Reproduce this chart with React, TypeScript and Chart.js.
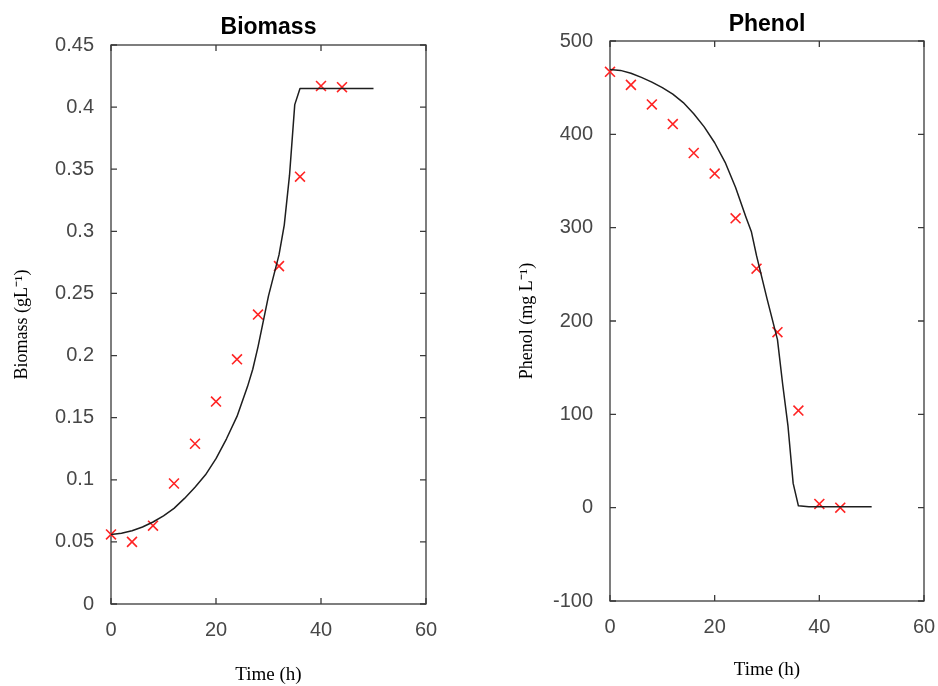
import React, { useEffect, useRef } from "react";
import { Chart, registerables } from "chart.js";

Chart.register(...registerables);

// ---- Data ----
const modelTime = [0, 2, 4, 6, 8, 10, 12, 14, 16, 18, 20, 22, 24, 26, 27, 28, 30, 32, 33, 34, 35, 36, 38, 40, 42, 44, 46, 48, 50];
const biomassModel = [0.056, 0.057, 0.059, 0.062, 0.066, 0.071, 0.077, 0.085, 0.094, 0.104, 0.117, 0.133, 0.151, 0.175, 0.189, 0.207, 0.248, 0.281, 0.305, 0.345, 0.402, 0.415, 0.415, 0.415, 0.415, 0.415, 0.415, 0.415, 0.415];
const phenolModel = [469.5, 468.5, 465.5, 461, 456, 450, 443, 434, 422, 408, 391, 370, 343, 311, 296, 270, 224, 180, 132, 88, 26, 2, 1, 1, 1, 1, 1, 1, 1];

const expTime = [0, 4, 8, 12, 16, 20, 24, 28, 32, 36, 40, 44];
const biomassExp = [0.056, 0.05, 0.063, 0.097, 0.129, 0.163, 0.197, 0.233, 0.272, 0.344, 0.417, 0.416];
const phenolExp = [467, 453, 432, 411, 380, 358, 310, 256, 188, 104, 4, 0];

const timeTicks = [0, 20, 40, 60];
const biomassTicks = [0, 0.05, 0.1, 0.15, 0.2, 0.25, 0.3, 0.35, 0.4, 0.45];
const phenolTicks = [-100, 0, 100, 200, 300, 400, 500];

const SANS = "'Liberation Sans', Arial, Helvetica, sans-serif";
const SERIF = "'Liberation Serif', 'Times New Roman', Times, serif";
const AXIS_COLOR = "#3a3a3a";
const LABEL_COLOR = "#474747";

const framePlugin = {
  id: "matlabFrame",
  beforeDatasetsDraw(chart: any) {
    const { ctx, chartArea: a, scales } = chart;
    ctx.save();
    ctx.strokeStyle = AXIS_COLOR;
    ctx.lineWidth = 1.3;
    ctx.strokeRect(a.left, a.top, a.right - a.left, a.bottom - a.top);
    const tl = 6;
    ctx.beginPath();
    for (const t of scales.x.ticks) {
      const px = scales.x.getPixelForValue(t.value);
      ctx.moveTo(px, a.bottom);
      ctx.lineTo(px, a.bottom - tl);
      ctx.moveTo(px, a.top);
      ctx.lineTo(px, a.top + tl);
    }
    for (const t of scales.y.ticks) {
      const py = scales.y.getPixelForValue(t.value);
      ctx.moveTo(a.left, py);
      ctx.lineTo(a.left + tl, py);
      ctx.moveTo(a.right, py);
      ctx.lineTo(a.right - tl, py);
    }
    ctx.stroke();
    ctx.restore();
  },
};

type PanelProps = {
  left: number;
  title: string;
  yTitle: string;
  model: number[];
  exp: number[];
  yTicks: number[];
  yWidth: number;
  yTitlePad: number;
  rightPad: number;
  titlePadTop: number;
  titlePadBottom: number;
  xHeight: number;
  xTitlePadBottom: number;
};

function Panel(p: PanelProps) {
  const ref = useRef<HTMLCanvasElement | null>(null);
  useEffect(() => {
    if (!ref.current) return;
    const yMin = p.yTicks[0];
    const yMax = p.yTicks[p.yTicks.length - 1];
    const chart = new Chart(ref.current, {
      type: "scatter",
      data: {
        datasets: [
          {
            label: "Model",
            data: modelTime.map((t, i) => ({ x: t, y: p.model[i] })),
            showLine: true,
            borderColor: "#1e1e1e",
            borderWidth: 1.5,
            pointRadius: 0,
            tension: 0,
            borderJoinStyle: "round",
            clip: false,
          },
          {
            label: "Experimental",
            data: expTime.map((t, i) => ({ x: t, y: p.exp[i] })),
            showLine: false,
            pointStyle: "crossRot",
            pointRadius: 7,
            borderColor: "rgb(255,35,35)",
            backgroundColor: "rgb(255,35,35)",
            borderWidth: 1.6,
            clip: false,
          },
        ],
      },
      options: {
        responsive: false,
        animation: false,
        layout: { padding: { left: 0, right: p.rightPad, top: 0, bottom: 0 } },
        plugins: {
          legend: { display: false },
          tooltip: { enabled: false },
          title: {
            display: true,
            text: p.title,
            fullSize: false,
            color: "#000",
            font: { family: SANS, size: 23, weight: "bold", lineHeight: 1.2 },
            padding: { top: p.titlePadTop, bottom: p.titlePadBottom },
          },
        },
        scales: {
          x: {
            type: "linear",
            min: 0,
            max: 60,
            afterBuildTicks: (s: any) => {
              s.ticks = timeTicks.map((v) => ({ value: v }));
            },
            afterFit: (s: any) => {
              s.height = p.xHeight;
              s.paddingLeft = 0;
              s.paddingRight = 0;
            },
            grid: { display: false },
            border: { display: false },
            ticks: {
              color: LABEL_COLOR,
              font: { family: SANS, size: 20 },
              padding: 6,
              maxRotation: 0,
              callback: (v: any) => String(v),
            },
            title: {
              display: true,
              text: "Time (h)",
              color: "#000",
              font: { family: SERIF, size: 19, lineHeight: 1.2 },
              padding: { top: 0, bottom: p.xTitlePadBottom },
            },
          },
          y: {
            type: "linear",
            min: yMin,
            max: yMax,
            afterBuildTicks: (s: any) => {
              s.ticks = p.yTicks.map((v) => ({ value: v }));
            },
            afterFit: (s: any) => {
              s.width = p.yWidth;
              s.paddingTop = 0;
              s.paddingBottom = 0;
            },
            grid: { display: false },
            border: { display: false },
            ticks: {
              color: LABEL_COLOR,
              font: { family: SANS, size: 20 },
              padding: 9,
              callback: (v: any) => String(parseFloat(Number(v).toFixed(2))),
            },
            title: {
              display: true,
              text: p.yTitle,
              color: "#000",
              font: { family: SERIF, size: 18, lineHeight: 1.2 },
              padding: { top: p.yTitlePad, bottom: 0 },
            },
          },
        },
      },
      plugins: [framePlugin],
    } as any);
    return () => chart.destroy();
  }, []);
  return (
    <canvas
      ref={ref}
      width={469}
      height={686}
      style={{ position: "absolute", left: p.left, top: 0, width: 469, height: 686, display: "block" }}
    />
  );
}

export default function App() {
  return (
    <div style={{ position: "absolute", left: 0, top: 0, width: 938, height: 686, background: "#fff", overflow: "hidden" }}>
      <Panel
        left={0}
        title="Biomass"
        yTitle="Biomass (gL⁻¹)"
        model={biomassModel}
        exp={biomassExp}
        yTicks={biomassTicks}
        yWidth={111}
        yTitlePad={11}
        rightPad={43}
        titlePadTop={14.2}
        titlePadBottom={3.2}
        xHeight={82}
        xTitlePadBottom={0}
      />
      <Panel
        left={469}
        title="Phenol"
        yTitle="Phenol (mg L⁻¹)"
        model={phenolModel}
        exp={phenolExp}
        yTicks={phenolTicks}
        yWidth={141}
        yTitlePad={47}
        rightPad={14}
        titlePadTop={11}
        titlePadBottom={2.4}
        xHeight={85}
        xTitlePadBottom={5}
      />
    </div>
  );
}
